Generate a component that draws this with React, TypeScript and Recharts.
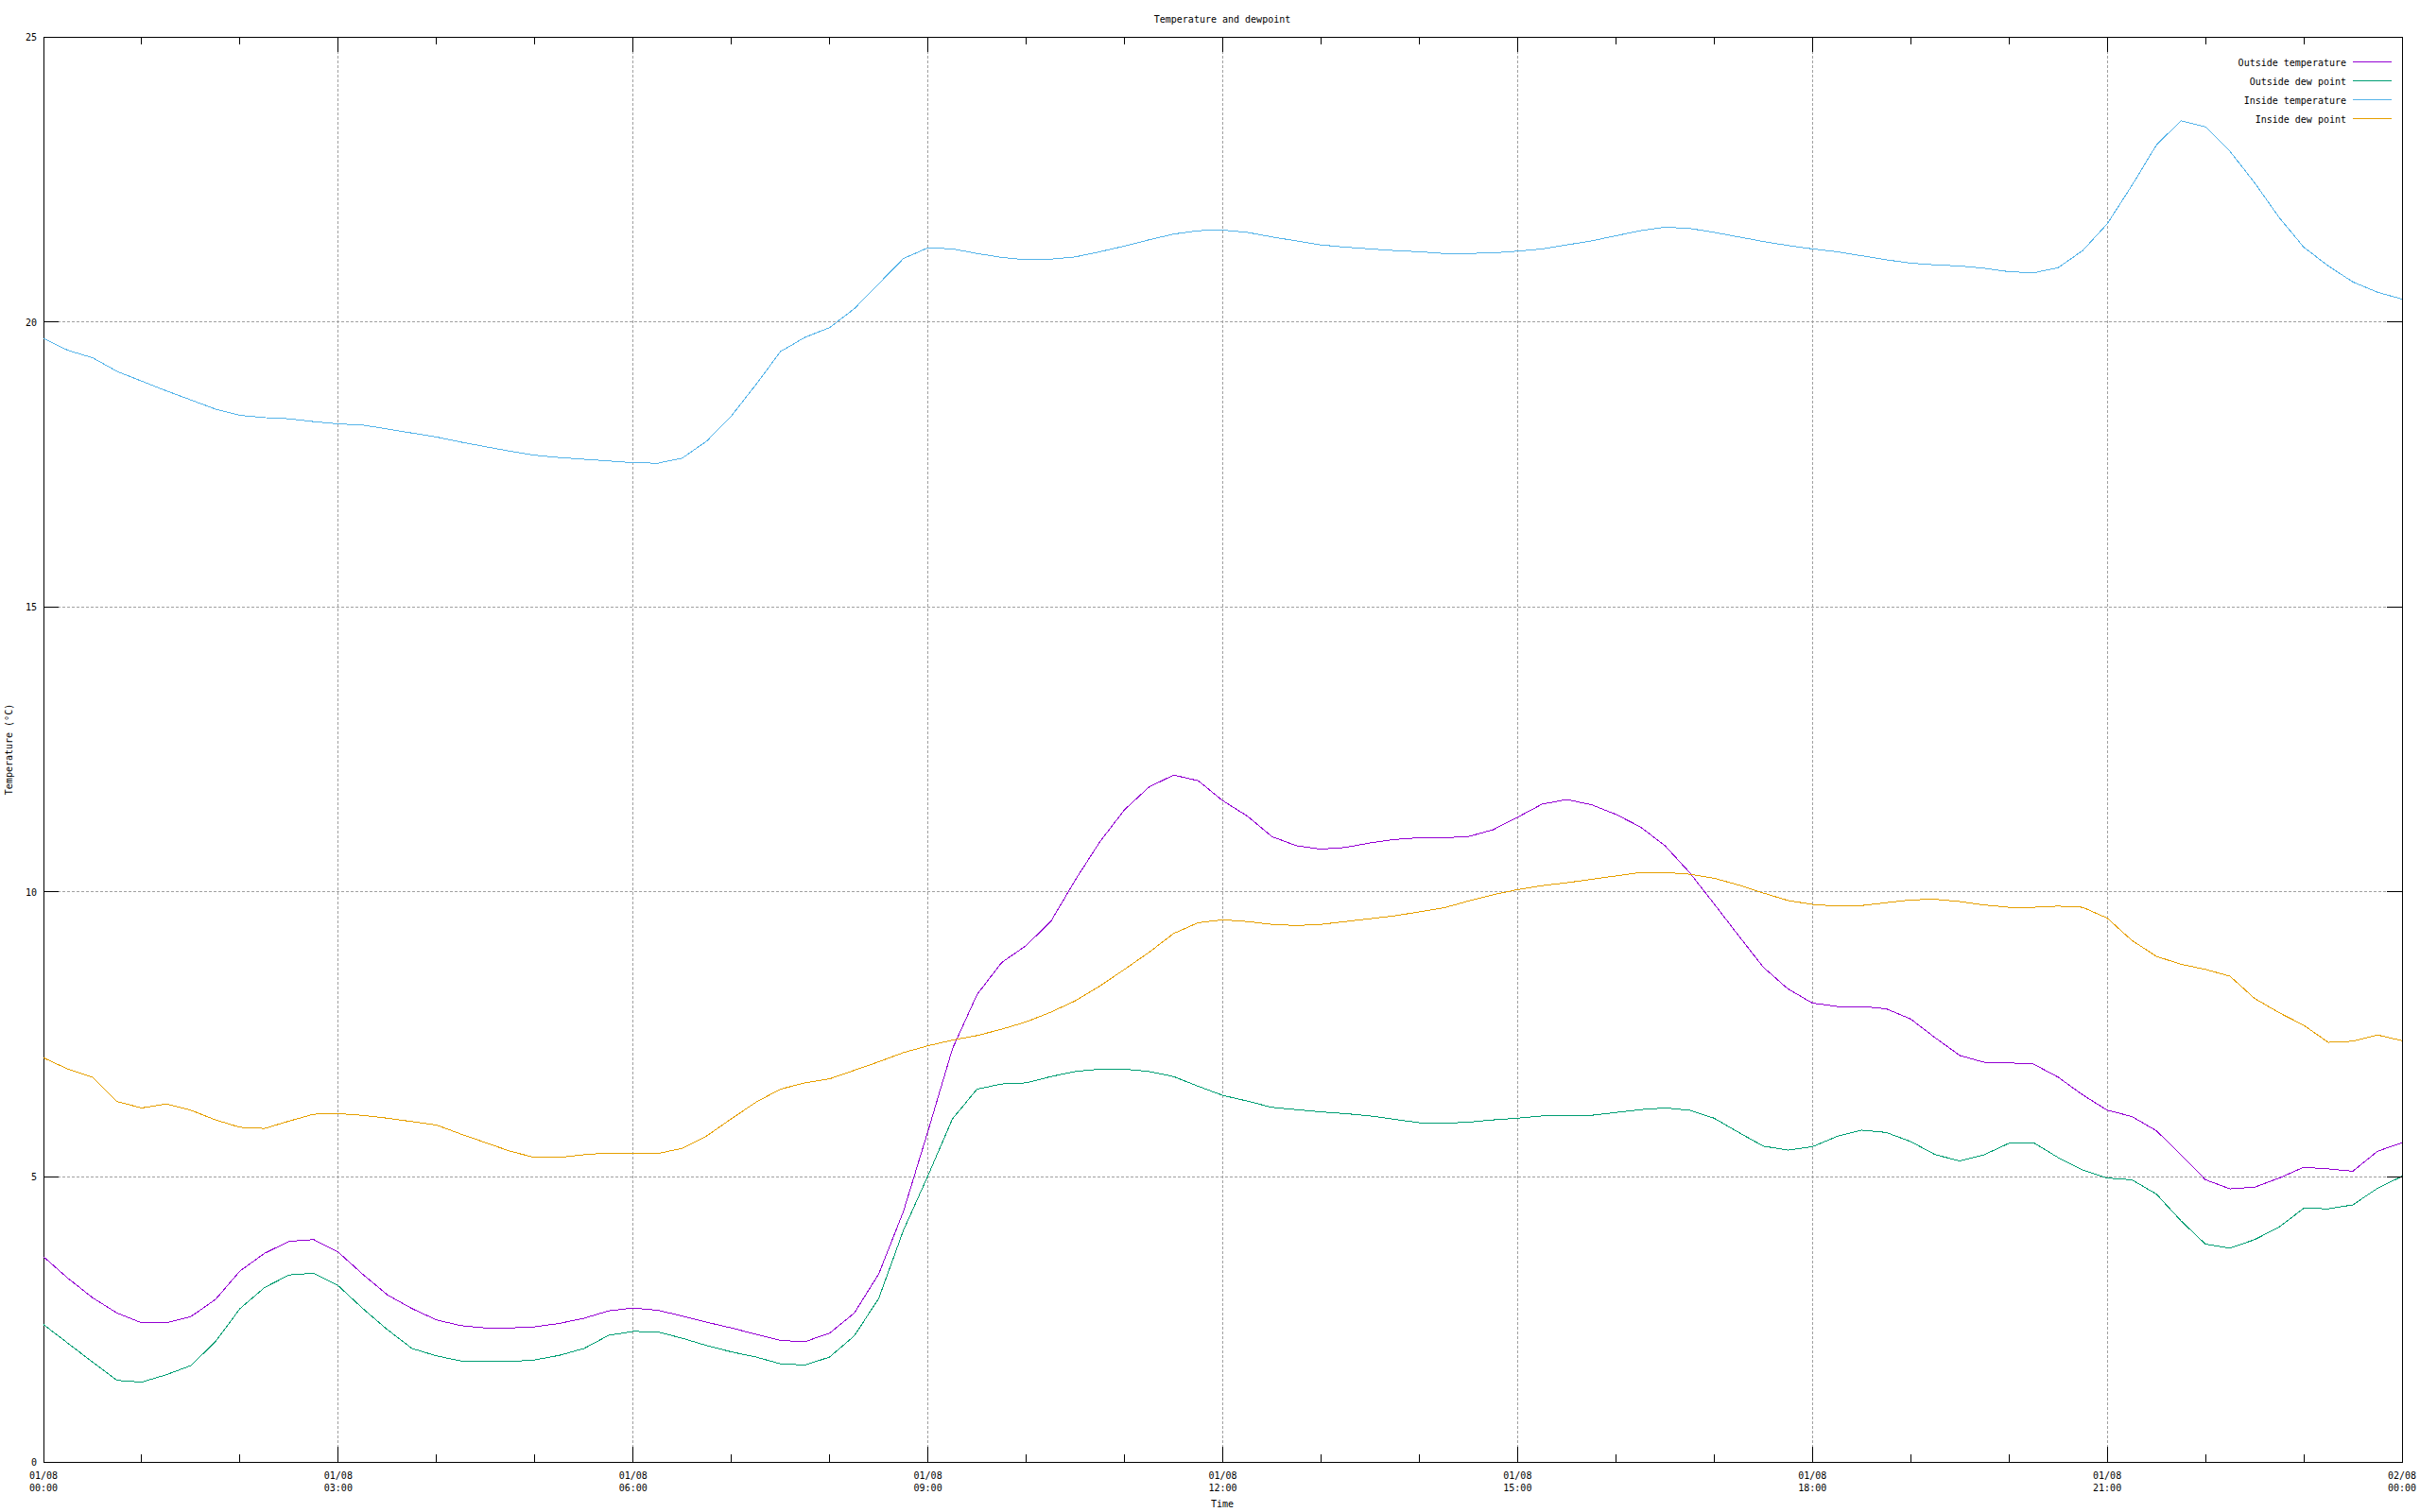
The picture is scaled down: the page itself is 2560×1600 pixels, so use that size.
import { LineChart, Line, XAxis, YAxis, ReferenceLine, ReferenceArea, Legend } from "recharts";

// minutes since 01/08 00:00, one reading every 15 minutes
const minutes = [
  0, 15, 30, 45, 60, 75, 90, 105, 120, 135, 150, 165, 180, 195, 210, 225, 240, 255, 270, 285,
  300, 315, 330, 345, 360, 375, 390, 405, 420, 435, 450, 465, 480, 495, 510, 525, 540, 555, 570, 585,
  600, 615, 630, 645, 660, 675, 690, 705, 720, 735, 750, 765, 780, 795, 810, 825, 840, 855, 870, 885,
  900, 915, 930, 945, 960, 975, 990, 1005, 1020, 1035, 1050, 1065, 1080, 1095, 1110, 1125, 1140, 1155, 1170, 1185,
  1200, 1215, 1230, 1245, 1260, 1275, 1290, 1305, 1320, 1335, 1350, 1365, 1380, 1395, 1410, 1425, 1440,
];

const outsideTemp = [
  3.6, 3.22, 2.88, 2.61, 2.44, 2.44, 2.55, 2.85, 3.35, 3.66, 3.87, 3.9, 3.68, 3.29, 2.93, 2.69, 2.49, 2.39, 2.35, 2.35,
  2.37, 2.43, 2.52, 2.65, 2.7, 2.66, 2.56, 2.45, 2.35, 2.24, 2.13, 2.11, 2.26, 2.61, 3.3, 4.39, 5.8, 7.25, 8.2, 8.76,
  9.06, 9.48, 10.21, 10.88, 11.44, 11.84, 12.05, 11.95, 11.6, 11.33, 10.97, 10.81, 10.75, 10.78, 10.86, 10.92, 10.95, 10.95, 10.97, 11.09,
  11.31, 11.54, 11.62, 11.53, 11.36, 11.14, 10.81, 10.34, 9.79, 9.23, 8.68, 8.3, 8.05, 7.99, 7.99, 7.95, 7.77, 7.44, 7.13, 7.01,
  7.0, 6.98, 6.75, 6.44, 6.17, 6.06, 5.81, 5.39, 4.95, 4.79, 4.82, 4.98, 5.17, 5.14, 5.1, 5.45, 5.6,
];

const outsideDew = [
  2.41, 2.08, 1.75, 1.43, 1.4, 1.53, 1.69, 2.11, 2.69, 3.06, 3.28, 3.31, 3.09, 2.69, 2.32, 1.99, 1.86, 1.77, 1.76, 1.76,
  1.79, 1.87, 1.99, 2.22, 2.29, 2.28, 2.17, 2.04, 1.93, 1.84, 1.72, 1.7, 1.84, 2.21, 2.87, 4.06, 5.02, 6.02, 6.54, 6.63,
  6.65, 6.76, 6.85, 6.89, 6.89, 6.85, 6.76, 6.59, 6.43, 6.33, 6.22, 6.18, 6.14, 6.11, 6.07, 6.01, 5.95, 5.94, 5.96, 6.0,
  6.03, 6.07, 6.08, 6.08, 6.13, 6.18, 6.21, 6.17, 6.03, 5.78, 5.54, 5.47, 5.53, 5.71, 5.82, 5.78, 5.62, 5.39, 5.28, 5.39,
  5.59, 5.6, 5.34, 5.12, 4.98, 4.95, 4.7, 4.23, 3.82, 3.75, 3.9, 4.12, 4.45, 4.44, 4.51, 4.8, 5.01,
];

const insideTemp = [
  19.71, 19.5, 19.37, 19.13, 18.96, 18.79, 18.63, 18.47, 18.36, 18.32, 18.3, 18.25, 18.21, 18.19, 18.12, 18.05, 17.98, 17.89, 17.81, 17.73,
  17.66, 17.62, 17.59, 17.56, 17.53, 17.52, 17.61, 17.91, 18.35, 18.9, 19.48, 19.73, 19.9, 20.23, 20.67, 21.11, 21.3, 21.28, 21.2, 21.13,
  21.09, 21.1, 21.14, 21.23, 21.33, 21.44, 21.54, 21.6, 21.61, 21.57, 21.49, 21.42, 21.35, 21.31, 21.28, 21.25, 21.23, 21.2, 21.2, 21.21,
  21.24, 21.28, 21.35, 21.42, 21.51, 21.6, 21.66, 21.64, 21.57, 21.49, 21.41, 21.34, 21.28, 21.23, 21.16, 21.09, 21.03, 21.0, 20.98, 20.94,
  20.88, 20.86, 20.95, 21.25, 21.72, 22.39, 23.1, 23.53, 23.42, 22.99, 22.44, 21.83, 21.31, 20.98, 20.7, 20.52, 20.4,
];

const insideDew = [
  7.09, 6.89, 6.75, 6.32, 6.21, 6.28, 6.17, 6.0, 5.87, 5.85, 5.98, 6.1, 6.11, 6.08, 6.03, 5.97, 5.91, 5.75, 5.6, 5.45,
  5.34, 5.34, 5.39, 5.42, 5.42, 5.41, 5.5, 5.72, 6.02, 6.31, 6.54, 6.65, 6.72, 6.87, 7.02, 7.18, 7.3, 7.4, 7.48, 7.59,
  7.72, 7.89, 8.09, 8.35, 8.64, 8.94, 9.27, 9.46, 9.51, 9.48, 9.43, 9.41, 9.43, 9.48, 9.53, 9.58, 9.65, 9.72, 9.84, 9.95,
  10.04, 10.11, 10.16, 10.22, 10.28, 10.34, 10.34, 10.31, 10.24, 10.12, 9.98, 9.85, 9.78, 9.75, 9.76, 9.81, 9.86, 9.87, 9.83, 9.77,
  9.73, 9.73, 9.75, 9.73, 9.54, 9.15, 8.87, 8.73, 8.64, 8.52, 8.13, 7.88, 7.66, 7.36, 7.38, 7.49, 7.39,
];

const hourTicks = [
  0, 60, 120, 180, 240, 300, 360, 420, 480, 540, 600, 660, 720, 780, 840, 900, 960, 1020, 1080, 1140, 1200, 1260, 1320, 1380, 1440,
];
const majorTicks = [0, 180, 360, 540, 720, 900, 1080, 1260, 1440];
const majorDates = ["01/08", "01/08", "01/08", "01/08", "01/08", "01/08", "01/08", "01/08", "02/08"];
const majorTimes = ["00:00", "03:00", "06:00", "09:00", "12:00", "15:00", "18:00", "21:00", "00:00"];
const gridX = [180, 360, 540, 720, 900, 1080, 1260];
const yTicks = [0, 5, 10, 15, 20, 25];
const gridY = [5, 10, 15, 20];

const series = [
  { key: "outsideTemp", name: "Outside temperature", color: "#9400d3" },
  { key: "outsideDew", name: "Outside dew point", color: "#009e73" },
  { key: "insideTemp", name: "Inside temperature", color: "#56b4e9" },
  { key: "insideDew", name: "Inside dew point", color: "#e69f00" },
];

const data = minutes.map((t, i) => ({
  t,
  outsideTemp: outsideTemp[i],
  outsideDew: outsideDew[i],
  insideTemp: insideTemp[i],
  insideDew: insideDew[i],
}));

const W = 2560;
const H = 1600;
const TOP = 39;
const BOTTOM = 1547;
const LEFT = 46;
const RIGHT = 2541;
const FONT = "'DejaVu Sans Mono', monospace";

function TimeTick({ x, payload }: any) {
  const v = payload.value;
  const k = majorTicks.indexOf(v);
  const len = k >= 0 ? 16 : 8;
  return (
    <g>
      <line x1={x} x2={x} y1={BOTTOM} y2={BOTTOM - len} stroke="#000" />
      <line x1={x} x2={x} y1={TOP} y2={TOP + len} stroke="#000" />
      {k >= 0 && (
        <text fontFamily={FONT} fontSize={10} fill="#000" textAnchor="middle">
          <tspan x={x} y={1565}>{majorDates[k]}</tspan>
          <tspan x={x} y={1578}>{majorTimes[k]}</tspan>
        </text>
      )}
    </g>
  );
}

function TempTick({ y, payload }: any) {
  return (
    <g>
      <line x1={LEFT} x2={LEFT + 16} y1={y} y2={y} stroke="#000" />
      <line x1={RIGHT - 16} x2={RIGHT} y1={y} y2={y} stroke="#000" />
      <text x={39} y={y + 4} fontFamily={FONT} fontSize={10} fill="#000" textAnchor="end">
        {payload.value}
      </text>
    </g>
  );
}

function LegendBox() {
  return (
    <svg width={250} height={80} style={{ display: "block" }}>
      {series.map((s, i) => (
        <g key={s.key}>
          <text x={192} y={14.5 + 20 * i} fontFamily={FONT} fontSize={10} fill="#000" textAnchor="end">
            {s.name}
          </text>
          <line x1={199} x2={240} y1={10.5 + 20 * i} y2={10.5 + 20 * i} stroke={s.color} strokeWidth={1} />
        </g>
      ))}
    </svg>
  );
}

export default function App() {
  return (
    <div style={{ position: "absolute", left: 0, top: 0, width: W, height: H, background: "#fff", shapeRendering: "crispEdges" }}>
      <LineChart width={W} height={H} data={data} margin={{ top: TOP, right: W - RIGHT, bottom: 0, left: 0 }}>
        <XAxis
          dataKey="t"
          type="number"
          domain={[0, 1440]}
          ticks={hourTicks}
          interval={0}
          height={H - BOTTOM}
          axisLine={false}
          tickLine={false}
          tick={<TimeTick />}
        />
        <YAxis
          type="number"
          domain={[0, 25]}
          ticks={yTicks}
          interval={0}
          width={LEFT}
          axisLine={false}
          tickLine={false}
          tick={<TempTick />}
        />
        {gridX.map((v) => (
          <ReferenceLine key={"gx" + v} x={v} stroke="#a0a0a0" strokeDasharray="3 2" />
        ))}
        {gridY.map((v) => (
          <ReferenceLine key={"gy" + v} y={v} stroke="#a0a0a0" strokeDasharray="3 2" />
        ))}
        <ReferenceArea x1={0} x2={1440} y1={0} y2={25} fill="none" stroke="#000" strokeWidth={1} />
        {series.map((s) => (
          <Line
            key={s.key}
            type="linear"
            dataKey={s.key}
            name={s.name}
            stroke={s.color}
            strokeWidth={1}
            dot={false}
            activeDot={false}
            isAnimationActive={false}
          />
        ))}
        <Legend
          layout="vertical"
          align="center"
          verticalAlign="middle"
          content={() => <LegendBox />}
          wrapperStyle={{ left: 2290, top: 55, width: 250, height: 80 }}
        />
        <text x={1293} y={24} fontFamily={FONT} fontSize={10} fill="#000" textAnchor="middle">
          Temperature and dewpoint
        </text>
        <text x={1293} y={1595} fontFamily={FONT} fontSize={10} fill="#000" textAnchor="middle">
          Time
        </text>
        <text transform="translate(13, 793) rotate(-90)" fontFamily={FONT} fontSize={10} fill="#000" textAnchor="middle">
          Temperature (°C)
        </text>
      </LineChart>
    </div>
  );
}
